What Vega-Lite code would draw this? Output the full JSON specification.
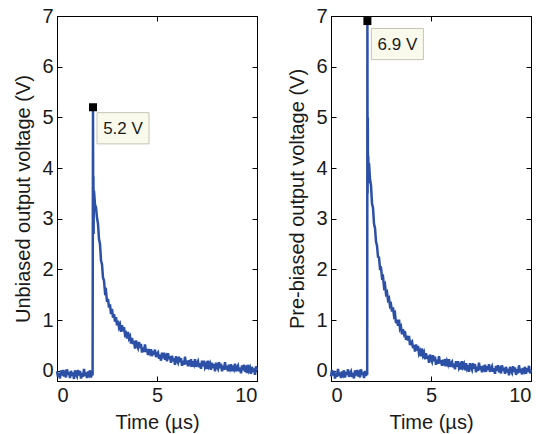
{
  "$schema": "https://vega.github.io/schema/vega-lite/v6.json",
  "padding": {"left": 13, "top": 5, "right": 4, "bottom": 0},
  "spacing": 24,
  "background": "#ffffff",
  "config": {
    "font": "Liberation Sans",
    "view": {"stroke": "#000000", "strokeWidth": 1},
    "axis": {
      "domainColor": "#000000", "tickColor": "#000000", "tickSize": -5,
      "labelFont": "Liberation Sans", "labelFontSize": 20, "labelColor": "#1a1a1a",
      "titleFont": "Liberation Sans", "titleFontSize": 20, "titleFontWeight": "normal", "titleColor": "#1a1a1a",
      "grid": false, "labelPadding": 9
    }
  },
  "datasets": {
    "L": [
      {"t":0.00,"v":-0.01},{"t":0.05,"v":-0.12},{"t":0.10,"v":-0.04},{"t":0.15,"v":-0.15},{"t":0.20,"v":0.01},{"t":0.25,"v":-0.09},{"t":0.30,"v":0.02},{"t":0.35,"v":-0.11},{"t":0.40,"v":-0.05},{"t":0.45,"v":-0.13},
      {"t":0.50,"v":0.03},{"t":0.55,"v":-0.08},{"t":0.60,"v":-0.02},{"t":0.65,"v":-0.14},{"t":0.70,"v":0.00},{"t":0.75,"v":-0.10},{"t":0.80,"v":-0.03},{"t":0.85,"v":-0.16},{"t":0.90,"v":0.01},{"t":0.95,"v":-0.07},
      {"t":1.00,"v":-0.11},{"t":1.05,"v":0.02},{"t":1.10,"v":-0.09},{"t":1.15,"v":0.00},{"t":1.20,"v":-0.15},{"t":1.25,"v":-0.04},{"t":1.30,"v":-0.12},{"t":1.35,"v":0.04},{"t":1.40,"v":-0.10},{"t":1.45,"v":-0.03},
      {"t":1.50,"v":-0.14},{"t":1.55,"v":-0.01},{"t":1.60,"v":-0.07},{"t":1.65,"v":0.01},{"t":1.70,"v":-0.13},{"t":1.75,"v":-0.02},{"t":1.78,"v":-0.09},
      {"t":1.80,"v":5.2},{"t":1.81,"v":2.9},{"t":1.82,"v":3.84},{"t":1.83,"v":2.7},{"t":1.84,"v":3.3},
      {"t":1.85,"v":3.55},{"t":1.90,"v":3.28},{"t":1.95,"v":3.22},{"t":2.00,"v":3.02},{"t":2.05,"v":2.90},{"t":2.10,"v":2.60},{"t":2.15,"v":2.50},{"t":2.20,"v":2.18},{"t":2.25,"v":2.10},{"t":2.30,"v":1.84},
      {"t":2.35,"v":1.78},{"t":2.40,"v":1.55},{"t":2.45,"v":1.58},{"t":2.50,"v":1.36},{"t":2.55,"v":1.42},{"t":2.60,"v":1.25},{"t":2.65,"v":1.31},{"t":2.70,"v":1.12},{"t":2.75,"v":1.22},{"t":2.80,"v":1.05},
      {"t":2.85,"v":1.12},{"t":2.90,"v":0.97},{"t":2.95,"v":1.06},{"t":3.00,"v":0.90},
      {"t":3.05,"v":0.99},{"t":3.10,"v":0.86},{"t":3.15,"v":0.91},{"t":3.20,"v":0.77},{"t":3.25,"v":0.90},{"t":3.30,"v":0.78},{"t":3.35,"v":0.86},{"t":3.40,"v":0.71},{"t":3.45,"v":0.74},{"t":3.50,"v":0.64},
      {"t":3.55,"v":0.77},{"t":3.60,"v":0.64},{"t":3.65,"v":0.68},{"t":3.70,"v":0.54},{"t":3.75,"v":0.65},{"t":3.80,"v":0.53},{"t":3.85,"v":0.59},{"t":3.90,"v":0.44},{"t":3.95,"v":0.60},{"t":4.00,"v":0.50},
      {"t":4.05,"v":0.45},{"t":4.10,"v":0.57},{"t":4.15,"v":0.45},{"t":4.20,"v":0.53},{"t":4.25,"v":0.36},{"t":4.30,"v":0.46},{"t":4.35,"v":0.37},{"t":4.40,"v":0.52},{"t":4.45,"v":0.37},{"t":4.50,"v":0.43},
      {"t":4.55,"v":0.31},{"t":4.60,"v":0.43},{"t":4.65,"v":0.36},{"t":4.70,"v":0.43},{"t":4.75,"v":0.29},{"t":4.80,"v":0.39},{"t":4.85,"v":0.32},{"t":4.90,"v":0.42},{"t":4.95,"v":0.27},{"t":5.00,"v":0.33},
      {"t":5.05,"v":0.36},{"t":5.10,"v":0.24},{"t":5.15,"v":0.32},{"t":5.20,"v":0.20},{"t":5.25,"v":0.36},{"t":5.30,"v":0.25},{"t":5.35,"v":0.36},{"t":5.40,"v":0.22},{"t":5.45,"v":0.28},{"t":5.50,"v":0.19},
      {"t":5.55,"v":0.35},{"t":5.60,"v":0.23},{"t":5.65,"v":0.29},{"t":5.70,"v":0.16},{"t":5.75,"v":0.30},{"t":5.80,"v":0.19},{"t":5.85,"v":0.25},{"t":5.90,"v":0.12},{"t":5.95,"v":0.29},{"t":6.00,"v":0.20},
      {"t":6.05,"v":0.16},{"t":6.10,"v":0.28},{"t":6.15,"v":0.17},{"t":6.20,"v":0.25},{"t":6.25,"v":0.10},{"t":6.30,"v":0.20},{"t":6.35,"v":0.12},{"t":6.40,"v":0.28},{"t":6.45,"v":0.13},{"t":6.50,"v":0.20},
      {"t":6.55,"v":0.09},{"t":6.60,"v":0.21},{"t":6.65,"v":0.15},{"t":6.70,"v":0.23},{"t":6.75,"v":0.08},{"t":6.80,"v":0.19},{"t":6.85,"v":0.13},{"t":6.90,"v":0.23},{"t":6.95,"v":0.08},{"t":7.00,"v":0.15},
      {"t":7.05,"v":0.19},{"t":7.10,"v":0.07},{"t":7.15,"v":0.15},{"t":7.20,"v":0.04},{"t":7.25,"v":0.20},{"t":7.30,"v":0.09},{"t":7.35,"v":0.20},{"t":7.40,"v":0.07},{"t":7.45,"v":0.12},{"t":7.50,"v":0.04},
      {"t":7.55,"v":0.20},{"t":7.60,"v":0.09},{"t":7.65,"v":0.14},{"t":7.70,"v":0.02},{"t":7.75,"v":0.16},{"t":7.80,"v":0.06},{"t":7.85,"v":0.13},{"t":7.90,"v":-0.01},{"t":7.95,"v":0.16},{"t":8.00,"v":0.08},
      {"t":8.05,"v":0.04},{"t":8.10,"v":0.17},{"t":8.15,"v":0.05},{"t":8.20,"v":0.14},{"t":8.25,"v":-0.01},{"t":8.30,"v":0.10},{"t":8.35,"v":0.02},{"t":8.40,"v":0.17},{"t":8.45,"v":0.03},{"t":8.50,"v":0.10},
      {"t":8.55,"v":-0.01},{"t":8.60,"v":0.12},{"t":8.65,"v":0.05},{"t":8.70,"v":0.13},{"t":8.75,"v":-0.01},{"t":8.80,"v":0.10},{"t":8.85,"v":0.04},{"t":8.90,"v":0.14},{"t":8.95,"v":-0.01},{"t":9.00,"v":0.06},
      {"t":9.05,"v":0.10},{"t":9.10,"v":-0.01},{"t":9.15,"v":0.06},{"t":9.20,"v":-0.05},{"t":9.25,"v":0.11},{"t":9.30,"v":0.01},{"t":9.35,"v":0.12},{"t":9.40,"v":-0.02},{"t":9.45,"v":0.04},{"t":9.50,"v":-0.04},
      {"t":9.55,"v":0.12},{"t":9.60,"v":0.01},{"t":9.65,"v":0.06},{"t":9.70,"v":-0.06},{"t":9.75,"v":0.08},{"t":9.80,"v":-0.02},{"t":9.85,"v":0.05},{"t":9.90,"v":-0.08},{"t":9.95,"v":0.09},{"t":10.00,"v":0.01}
    ],
    "R": [
      {"t":0.00,"v":-0.11},{"t":0.05,"v":0.02},{"t":0.10,"v":-0.09},{"t":0.15,"v":0.00},{"t":0.20,"v":-0.15},{"t":0.25,"v":-0.04},{"t":0.30,"v":-0.12},{"t":0.35,"v":0.04},{"t":0.40,"v":-0.10},{"t":0.45,"v":-0.03},
      {"t":0.50,"v":-0.14},{"t":0.55,"v":-0.01},{"t":0.60,"v":-0.07},{"t":0.65,"v":0.01},{"t":0.70,"v":-0.13},{"t":0.75,"v":-0.02},{"t":0.80,"v":-0.08},{"t":0.85,"v":0.03},{"t":0.90,"v":-0.12},{"t":0.95,"v":-0.05},
      {"t":1.00,"v":-0.01},{"t":1.05,"v":-0.12},{"t":1.10,"v":-0.04},{"t":1.15,"v":-0.15},{"t":1.20,"v":0.01},{"t":1.25,"v":-0.09},{"t":1.30,"v":0.02},{"t":1.35,"v":-0.11},{"t":1.40,"v":-0.05},{"t":1.45,"v":-0.13},
      {"t":1.50,"v":0.03},{"t":1.55,"v":-0.08},{"t":1.60,"v":-0.02},{"t":1.65,"v":-0.14},{"t":1.70,"v":0.00},{"t":1.75,"v":-0.10},{"t":1.80,"v":-0.03},{"t":1.81,"v":-0.08},
      {"t":1.82,"v":6.9},{"t":1.83,"v":3.5},{"t":1.84,"v":5.0},{"t":1.85,"v":3.7},{"t":1.86,"v":4.25},{"t":1.88,"v":3.9},{"t":1.90,"v":4.1},{"t":1.95,"v":3.78},
      {"t":2.00,"v":3.66},{"t":2.05,"v":3.30},{"t":2.10,"v":3.22},{"t":2.15,"v":2.90},{"t":2.20,"v":2.82},{"t":2.25,"v":2.55},{"t":2.30,"v":2.47},{"t":2.35,"v":2.25},{"t":2.40,"v":2.24},{"t":2.45,"v":2.02},
      {"t":2.50,"v":2.03},{"t":2.55,"v":1.84},{"t":2.60,"v":1.86},{"t":2.65,"v":1.66},{"t":2.70,"v":1.70},{"t":2.75,"v":1.52},{"t":2.80,"v":1.55},{"t":2.85,"v":1.40},{"t":2.90,"v":1.43},{"t":2.95,"v":1.28},
      {"t":3.00,"v":1.31},{"t":3.05,"v":1.17},{"t":3.10,"v":1.25},{"t":3.15,"v":1.09},{"t":3.20,"v":1.13},{"t":3.25,"v":0.94},{"t":3.30,"v":1.01},{"t":3.35,"v":0.89},{"t":3.40,"v":1.01},{"t":3.45,"v":0.83},
      {"t":3.50,"v":0.87},{"t":3.55,"v":0.72},{"t":3.60,"v":0.82},{"t":3.65,"v":0.73},{"t":3.70,"v":0.78},{"t":3.75,"v":0.61},{"t":3.80,"v":0.69},{"t":3.85,"v":0.60},{"t":3.90,"v":0.69},{"t":3.95,"v":0.51},
      {"t":4.00,"v":0.56},{"t":4.05,"v":0.58},{"t":4.10,"v":0.45},{"t":4.15,"v":0.51},{"t":4.20,"v":0.38},{"t":4.25,"v":0.52},{"t":4.30,"v":0.40},{"t":4.35,"v":0.49},{"t":4.40,"v":0.34},{"t":4.45,"v":0.39},
      {"t":4.50,"v":0.29},{"t":4.55,"v":0.44},{"t":4.60,"v":0.31},{"t":4.65,"v":0.36},{"t":4.70,"v":0.23},{"t":4.75,"v":0.35},{"t":4.80,"v":0.24},{"t":4.85,"v":0.30},{"t":4.90,"v":0.16},{"t":4.95,"v":0.32},
      {"t":5.00,"v":0.23},{"t":5.05,"v":0.18},{"t":5.10,"v":0.31},{"t":5.15,"v":0.19},{"t":5.20,"v":0.28},{"t":5.25,"v":0.12},{"t":5.30,"v":0.22},{"t":5.35,"v":0.14},{"t":5.40,"v":0.29},{"t":5.45,"v":0.15},
      {"t":5.50,"v":0.21},{"t":5.55,"v":0.10},{"t":5.60,"v":0.22},{"t":5.65,"v":0.16},{"t":5.70,"v":0.23},{"t":5.75,"v":0.09},{"t":5.80,"v":0.19},{"t":5.85,"v":0.13},{"t":5.90,"v":0.23},{"t":5.95,"v":0.08},
      {"t":6.00,"v":0.15},{"t":6.05,"v":0.18},{"t":6.10,"v":0.07},{"t":6.15,"v":0.14},{"t":6.20,"v":0.03},{"t":6.25,"v":0.19},{"t":6.30,"v":0.08},{"t":6.35,"v":0.19},{"t":6.40,"v":0.06},{"t":6.45,"v":0.11},
      {"t":6.50,"v":0.03},{"t":6.55,"v":0.19},{"t":6.60,"v":0.08},{"t":6.65,"v":0.13},{"t":6.70,"v":0.01},{"t":6.75,"v":0.15},{"t":6.80,"v":0.05},{"t":6.85,"v":0.11},{"t":6.90,"v":-0.02},{"t":6.95,"v":0.15},
      {"t":7.00,"v":0.07},{"t":7.05,"v":0.02},{"t":7.10,"v":0.15},{"t":7.15,"v":0.04},{"t":7.20,"v":0.13},{"t":7.25,"v":-0.03},{"t":7.30,"v":0.08},{"t":7.35,"v":0.00},{"t":7.40,"v":0.16},{"t":7.45,"v":0.02},
      {"t":7.50,"v":0.09},{"t":7.55,"v":-0.03},{"t":7.60,"v":0.10},{"t":7.65,"v":0.04},{"t":7.70,"v":0.12},{"t":7.75,"v":-0.02},{"t":7.80,"v":0.09},{"t":7.85,"v":0.02},{"t":7.90,"v":0.13},{"t":7.95,"v":-0.02},
      {"t":8.00,"v":0.05},{"t":8.05,"v":0.09},{"t":8.10,"v":-0.02},{"t":8.15,"v":0.05},{"t":8.20,"v":-0.06},{"t":8.25,"v":0.10},{"t":8.30,"v":0.00},{"t":8.35,"v":0.11},{"t":8.40,"v":-0.03},{"t":8.45,"v":0.03},
      {"t":8.50,"v":-0.05},{"t":8.55,"v":0.11},{"t":8.60,"v":0.00},{"t":8.65,"v":0.06},{"t":8.70,"v":-0.06},{"t":8.75,"v":0.08},{"t":8.80,"v":-0.03},{"t":8.85,"v":0.04},{"t":8.90,"v":-0.09},{"t":8.95,"v":0.08},
      {"t":9.00,"v":0.00},{"t":9.05,"v":-0.04},{"t":9.10,"v":0.09},{"t":9.15,"v":-0.02},{"t":9.20,"v":0.07},{"t":9.25,"v":-0.08},{"t":9.30,"v":0.03},{"t":9.35,"v":-0.05},{"t":9.40,"v":0.11},{"t":9.45,"v":-0.03},
      {"t":9.50,"v":0.04},{"t":9.55,"v":-0.07},{"t":9.60,"v":0.06},{"t":9.65,"v":0.00},{"t":9.70,"v":0.08},{"t":9.75,"v":-0.06},{"t":9.80,"v":0.05},{"t":9.85,"v":-0.01},{"t":9.90,"v":0.10},{"t":9.95,"v":-0.05},{"t":10.00,"v":0.02}
    ],
    "peakL": [{"t":1.8,"v":5.2,"label":"5.2 V"}],
    "peakR": [{"t":1.82,"v":6.9,"label":"6.9 V"}]
  },
  "hconcat": [
    {
      "width": 200, "height": 365,
      "resolve": {"axis": {"x": "independent", "y": "independent"}},
      "layer": [
        {
          "data": {"name": "L"},
          "mark": {"type": "line", "color": "#2c50a6", "strokeWidth": 2.5, "interpolate": "linear"},
          "encoding": {
            "x": {"field": "t", "type": "quantitative", "scale": {"domain": [0, 10], "nice": false, "zero": false},
                  "axis": {"values": [0, 5, 10], "title": "Time (µs)", "titlePadding": 7, "labelPadding": 9}},
            "y": {"field": "v", "type": "quantitative", "scale": {"domain": [-0.2, 7], "nice": false, "zero": false},
                  "axis": {"values": [0, 1, 2, 3, 4, 5, 6, 7], "title": "Unbiased output voltage (V)", "titlePadding": 8}}
          }
        },
        {
          "data": {"name": "peakL"},
          "mark": {"type": "point", "opacity": 0},
          "encoding": {
            "x": {"field": "t", "type": "quantitative", "axis": {"orient": "top", "values": [0, 5, 10], "labels": false, "title": null}},
            "y": {"field": "v", "type": "quantitative", "axis": {"orient": "right", "values": [0, 1, 2, 3, 4, 5, 6, 7], "labels": false, "title": null}}
          }
        },
        {
          "data": {"name": "peakL"},
          "mark": {"type": "point", "shape": "M-1,-0.6H1V0.6H-1Z", "size": 2704, "filled": true, "fill": "#fafaec", "stroke": "#c4c4b8", "strokeWidth": 1, "opacity": 1, "xOffset": 30, "yOffset": 21},
          "encoding": {"x": {"field": "t", "type": "quantitative", "axis": null}, "y": {"field": "v", "type": "quantitative", "axis": null}}
        },
        {
          "data": {"name": "peakL"},
          "mark": {"type": "text", "fontSize": 17, "color": "#1a1a1a", "align": "center", "baseline": "middle", "dx": 30, "dy": 22},
          "encoding": {"x": {"field": "t", "type": "quantitative", "axis": null}, "y": {"field": "v", "type": "quantitative", "axis": null}, "text": {"field": "label"}}
        },
        {
          "data": {"name": "peakL"},
          "mark": {"type": "square", "size": 64, "color": "#000000", "opacity": 1, "filled": true},
          "encoding": {"x": {"field": "t", "type": "quantitative", "axis": null}, "y": {"field": "v", "type": "quantitative", "axis": null}}
        }
      ]
    },
    {
      "width": 200, "height": 365,
      "resolve": {"axis": {"x": "independent", "y": "independent"}},
      "layer": [
        {
          "data": {"name": "R"},
          "mark": {"type": "line", "color": "#2c50a6", "strokeWidth": 2.5, "interpolate": "linear"},
          "encoding": {
            "x": {"field": "t", "type": "quantitative", "scale": {"domain": [0, 10], "nice": false, "zero": false},
                  "axis": {"values": [0, 5, 10], "title": "Time (µs)", "titlePadding": 7, "labelPadding": 9}},
            "y": {"field": "v", "type": "quantitative", "scale": {"domain": [-0.2, 7], "nice": false, "zero": false},
                  "axis": {"values": [0, 1, 2, 3, 4, 5, 6, 7], "title": "Pre-biased output voltage (V)", "titlePadding": 8}}
          }
        },
        {
          "data": {"name": "peakR"},
          "mark": {"type": "point", "opacity": 0},
          "encoding": {
            "x": {"field": "t", "type": "quantitative", "axis": {"orient": "top", "values": [0, 5, 10], "labels": false, "title": null}},
            "y": {"field": "v", "type": "quantitative", "axis": {"orient": "right", "values": [0, 1, 2, 3, 4, 5, 6, 7], "labels": false, "title": null}}
          }
        },
        {
          "data": {"name": "peakR"},
          "mark": {"type": "point", "shape": "M-1,-0.6H1V0.6H-1Z", "size": 2704, "filled": true, "fill": "#fafaec", "stroke": "#c4c4b8", "strokeWidth": 1, "opacity": 1, "xOffset": 30, "yOffset": 23},
          "encoding": {"x": {"field": "t", "type": "quantitative", "axis": null}, "y": {"field": "v", "type": "quantitative", "axis": null}}
        },
        {
          "data": {"name": "peakR"},
          "mark": {"type": "text", "fontSize": 17, "color": "#1a1a1a", "align": "center", "baseline": "middle", "dx": 30, "dy": 24},
          "encoding": {"x": {"field": "t", "type": "quantitative", "axis": null}, "y": {"field": "v", "type": "quantitative", "axis": null}, "text": {"field": "label"}}
        },
        {
          "data": {"name": "peakR"},
          "mark": {"type": "square", "size": 64, "color": "#000000", "opacity": 1, "filled": true},
          "encoding": {"x": {"field": "t", "type": "quantitative", "axis": null}, "y": {"field": "v", "type": "quantitative", "axis": null}}
        }
      ]
    }
  ]
}
